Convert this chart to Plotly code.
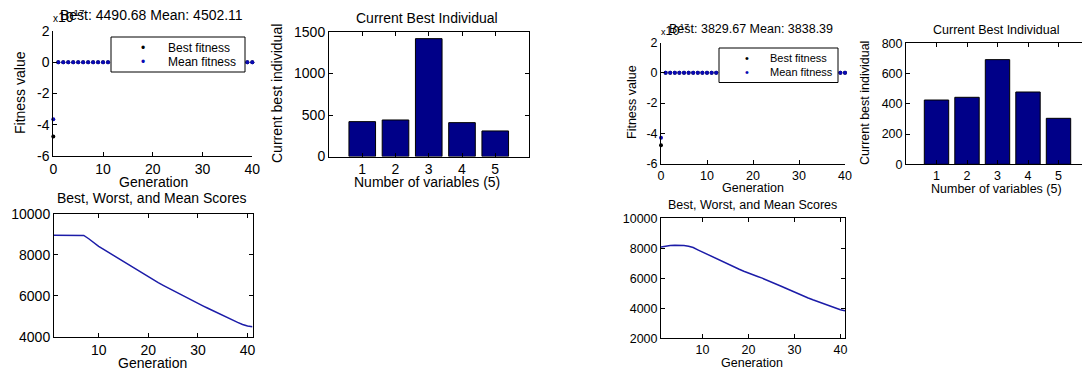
import plotly.graph_objects as go

W, H = 1082, 370
FONT = "Liberation Sans, Arial, Helvetica, sans-serif"

# ---------------- data ----------------
# Score curves (generation index 1..41)
score_gens = list(range(1, 42))
scores_left = [8960, 8960, 8960, 8955, 8955, 8950, 8950, 8790, 8600, 8420,
               8270, 8120, 7980, 7830, 7680, 7520, 7370, 7220, 7060, 6900,
               6770, 6640, 6510, 6380, 6250, 6120, 6000, 5870, 5750, 5630,
               5510, 5390, 5270, 5150, 5030, 4920, 4810, 4700, 4600, 4520,
               4490]
scores_right = [8080, 8150, 8180, 8200, 8200, 8180, 8140, 8050, 7900, 7750,
                7600, 7450, 7300, 7150, 7000, 6870, 6730, 6600, 6470, 6340,
                6230, 6120, 6010, 5890, 5770, 5630, 5490, 5350, 5210, 5070,
                4940, 4810, 4690, 4570, 4450, 4340, 4230, 4120, 4010, 3900,
                3830]

# Fitness per generation (0..40); generation 0 is far below on the 1e17 scale
fit_gens = list(range(0, 41))
best_fit_left = [-4.75e17] + scores_left[1:]
mean_fit_left = [-3.65e17] + scores_left[1:]
best_fit_right = [-4.8e17] + scores_right[1:]
mean_fit_right = [-4.3e17] + scores_right[1:]

# Current best individual
var_idx = [1, 2, 3, 4, 5]
best_ind_left = [420, 440, 1420, 408, 308]
best_ind_right = [425, 443, 692, 478, 304]

fit_ticks = [-6e17, -4e17, -2e17, 0, 2e17]
fit_ticktext = ["-6", "-4", "-2", "0", "2"]

title_left = "Best: 4490.68 Mean: 4502.11"
title_right = "Best: 3829.67 Mean: 3838.39"
legend_names = ["Best fitness", "Mean fitness"]

# ---------------- helpers ----------------
def dx(a, b):
    return [a / W, min(b / W, 1.0)]

def dy(top, bottom):
    return [1 - bottom / H, 1 - top / H]

def axis(domain, anchor, rng, size, mirror=False, **kw):
    d = dict(domain=domain, anchor=anchor, range=rng, showline=True,
             linecolor="black", linewidth=1, ticks="inside", ticklen=4,
             tickcolor="black", showgrid=False, zeroline=False,
             tickfont=dict(family=FONT, size=size, color="black"),
             tickformat="d", fixedrange=True)
    if mirror:
        d["mirror"] = "ticks"
    d.update(kw)
    return d

BLUE = "#0a0ab4"
NAVY = "#000088"
LINE = "#1c1ca8"
MARK_COLORS = ["black", BLUE]

fig = go.Figure()

# Panel 1: fitness (left)
fig.add_trace(go.Scatter(x=fit_gens, y=best_fit_left, mode="markers", name=legend_names[0],
                         marker=dict(color=MARK_COLORS[0], size=4), xaxis="x", yaxis="y",
                         cliponaxis=False, showlegend=False))
fig.add_trace(go.Scatter(x=fit_gens, y=mean_fit_left, mode="markers", name=legend_names[1],
                         marker=dict(color=MARK_COLORS[1], size=4), xaxis="x", yaxis="y",
                         cliponaxis=False, showlegend=False))
# Panel 2: bars (left)
fig.add_trace(go.Bar(x=var_idx, y=best_ind_left, width=0.8, xaxis="x2", yaxis="y2",
                     marker=dict(color=NAVY, line=dict(color="black", width=1)),
                     showlegend=False))
# Panel 3: scores (left)
fig.add_trace(go.Scatter(x=score_gens, y=scores_left, mode="lines", xaxis="x3", yaxis="y3",
                         line=dict(color=LINE, width=1.5), showlegend=False))
# Panel 4: fitness (right)
fig.add_trace(go.Scatter(x=fit_gens, y=best_fit_right, mode="markers", name=legend_names[0],
                         marker=dict(color=MARK_COLORS[0], size=4), xaxis="x4", yaxis="y4",
                         cliponaxis=False, showlegend=False))
fig.add_trace(go.Scatter(x=fit_gens, y=mean_fit_right, mode="markers", name=legend_names[1],
                         marker=dict(color=MARK_COLORS[1], size=4), xaxis="x4", yaxis="y4",
                         cliponaxis=False, showlegend=False))
# Panel 5: bars (right)
fig.add_trace(go.Bar(x=var_idx, y=best_ind_right, width=0.8, xaxis="x5", yaxis="y5",
                     marker=dict(color=NAVY, line=dict(color="black", width=1)),
                     showlegend=False))
# Panel 6: scores (right)
fig.add_trace(go.Scatter(x=score_gens, y=scores_right, mode="lines", xaxis="x6", yaxis="y6",
                         line=dict(color=LINE, width=1.5), showlegend=False))

L, R = 14, 12.5

layout = dict(
    width=W, height=H, margin=dict(l=0, r=0, t=0, b=0, pad=0, autoexpand=False),
    paper_bgcolor="white", plot_bgcolor="white", bargap=0, showlegend=False,
    font=dict(family=FONT, color="black"),
    xaxis=axis(dx(53.3, 252.3), "y", [0, 40], L, tickvals=[0, 10, 20, 30, 40]),
    yaxis=axis(dy(31, 156), "x", [-6e17, 2e17], L, tickvals=fit_ticks, ticktext=fit_ticktext),
    xaxis2=axis(dx(329, 528.5), "y2", [0, 6], L, mirror=True, tickvals=var_idx),
    yaxis2=axis(dy(32, 156.5), "x2", [0, 1500], L, mirror=True, tickvals=[0, 500, 1000, 1500]),
    xaxis3=axis(dx(54, 252.5), "y3", [1, 41], L, mirror=True, tickvals=[10, 20, 30, 40]),
    yaxis3=axis(dy(214, 336.7), "x3", [4000, 10000], L, mirror=True,
                tickvals=[4000, 6000, 8000, 10000]),
    xaxis4=axis(dx(661, 845), "y4", [0, 40], R, tickvals=[0, 10, 20, 30, 40]),
    yaxis4=axis(dy(42.5, 163.5), "x4", [-6e17, 2e17], R, tickvals=fit_ticks, ticktext=fit_ticktext),
    xaxis5=axis(dx(906, 1082), "y5", [0, 6 * (1082 - 906) / (1089 - 906)], R, mirror=True,
                tickvals=var_idx),
    yaxis5=axis(dy(43.3, 164.3), "x5", [0, 800], R, tickvals=[0, 200, 400, 600, 800]),
    xaxis6=axis(dx(661, 845), "y6", [1, 41], R, mirror=True, tickvals=[10, 20, 30, 40]),
    yaxis6=axis(dy(218.3, 338.3), "x6", [2000, 10000], R, mirror=True,
                tickvals=[2000, 4000, 6000, 8000, 10000]),
)

annotations = []
shapes = []

def text(x, y, s, size, angle=0, xanchor="center", yanchor="middle", color="black"):
    annotations.append(dict(x=x / W, y=1 - y / H, xref="paper", yref="paper", text=s,
                            showarrow=False, xanchor=xanchor, yanchor=yanchor,
                            textangle=angle, borderpad=0,
                            font=dict(family=FONT, size=size, color=color)))

def legend_box(x0, y0, x1, y1, rows, mark_x, text_x, size):
    shapes.append(dict(type="rect", xref="paper", yref="paper",
                       x0=x0 / W, x1=x1 / W, y0=1 - y1 / H, y1=1 - y0 / H,
                       line=dict(color="black", width=1), fillcolor="white", layer="above"))
    for name, col, ry in zip(legend_names, MARK_COLORS, rows):
        text(mark_x, ry, "\u2022", size, color=col)
        text(text_x, ry, name, size, xanchor="left")

# Left group
text(151, 15, title_left, L)
text(52, 26, "<span style='font-size:10px'>x</span>10<sup>17</sup>", L,
     xanchor="left", yanchor="bottom")
text(20, 93, "Fitness value", L, angle=-90)
text(153, 182, "Generation", L)
text(427, 18, "Current Best Individual", L)
text(277, 94, "Current best individual", L, angle=-90)
text(427, 182, "Number of variables (5)", L)
text(152, 198, "Best, Worst, and Mean Scores", L)
text(152, 363, "Generation", L)
legend_box(111, 37, 245, 72, [47.7, 62.3], 142.7, 167, 12)
# Right group
text(751, 29, title_right, R)
text(660, 39, "<span style='font-size:9px'>x</span>10<sup>17</sup>", R,
     xanchor="left", yanchor="bottom")
text(632, 102, "Fitness value", R, angle=-90)
text(753, 188, "Generation", R)
text(996, 30, "Current Best Individual", R)
text(865, 103, "Current best individual", R, angle=-90)
text(996, 189, "Number of variables (5)", R)
text(752, 205, "Best, Worst, and Mean Scores", R)
text(752, 363, "Generation", R)
legend_box(719, 48, 838, 82.5, [58.3, 72.3], 746.7, 769, 11)

layout["annotations"] = annotations
layout["shapes"] = shapes
fig.update_layout(**layout)
fig.write_html("out.html",
               config={"displayModeBar": False, "staticPlot": True},
               post_script="document.body.style.margin='0px';"
                           "document.body.style.overflow='hidden';")
